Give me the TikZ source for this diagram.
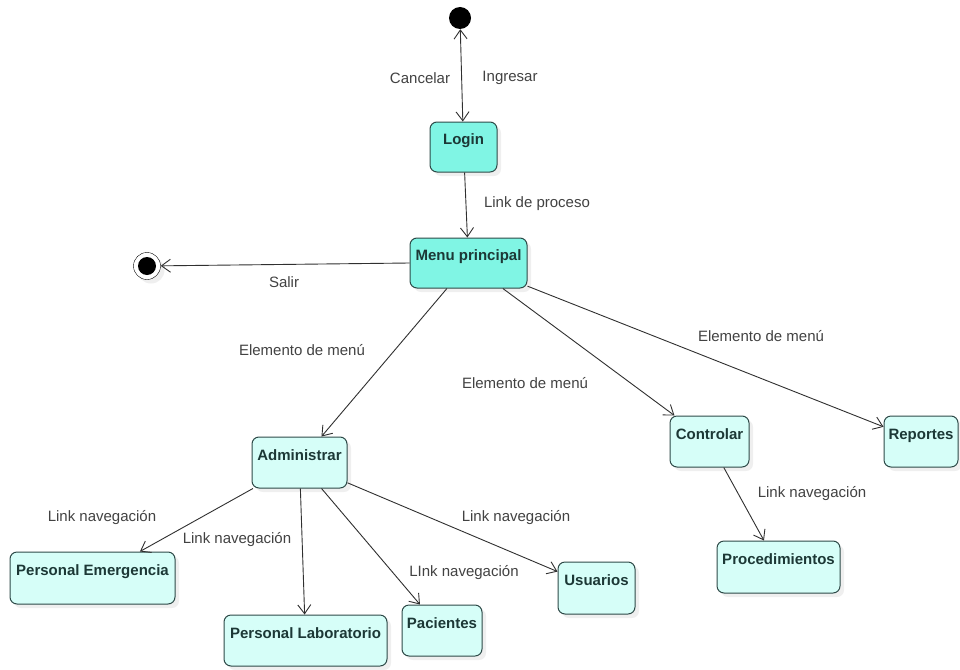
\documentclass[tikz,border=0pt]{standalone}
\usepackage{fontspec}
\setmainfont{Liberation Sans}
\usepackage{tikz}
\usetikzlibrary{arrows.meta}
\usetikzlibrary{shapes}
\usetikzlibrary{shadows}
\definecolor{menufill}{HTML}{80F5E4}
\definecolor{subfill}{HTML}{D6FEF8}
\definecolor{rimcol}{HTML}{2E4A48}
\definecolor{namecol}{HTML}{1C3836}
\definecolor{linecol}{HTML}{303030}
\definecolor{labcol}{HTML}{424242}
\tikzset{
    statebox/.style={draw=rimcol,line width=1pt,rounded corners=7pt,fill=subfill,
        minimum height=50pt,inner xsep=4pt,inner ysep=5pt,text height=15pt,text depth=20pt,
        font=\fontsize{15}{18}\selectfont\bfseries,text=namecol,
        drop shadow={opacity=0.12,shadow xshift=4pt,shadow yshift=-4pt}},
    mainbox/.style={statebox,fill=menufill},
    trans/.style={draw=linecol,line width=0.9pt,-{Straight Barb[length=9pt,width=13pt]}},
    translabel/.style={font=\fontsize{15}{18}\selectfont,text=labcol,inner sep=0pt}
}
\begin{document}
\begin{tikzpicture}[x=1pt,y=-1pt]
                    \useasboundingbox[fill=white] (0,0) rectangle (960,669);
                    % estados inicial y final
                    \draw (460,18) node[fill=black,circle,minimum size=22pt,inner sep=0pt,name=ini] {};
                    \draw (147,266) node[draw=black,fill=white,circle,minimum size=27pt,inner sep=0pt,name=fin,
                        drop shadow={opacity=0.12,shadow xshift=4pt,shadow yshift=-4pt}] {};
                    \fill (fin) circle (9pt);
                    % estados
                    \draw (463.5,147) node[mainbox,minimum width=67pt,name=login] {Login};
                    \draw (468.5,263) node[mainbox,minimum width=117pt,name=menu] {Menu principal};
                    \draw (299.5,462.5) node[statebox,minimum width=95pt,minimum height=51pt,name=admin] {Administrar};
                    \draw (709.5,441.5) node[statebox,minimum width=79pt,minimum height=51pt,name=control] {Controlar};
                    \draw (921,441.5) node[statebox,minimum width=74pt,minimum height=51pt,name=report] {Reportes};
                    \draw (778.5,567) node[statebox,minimum width=123pt,minimum height=52pt,name=proced] {Procedimientos};
                    \draw (92.5,578) node[statebox,minimum width=165pt,minimum height=52pt,name=emerg] {Personal Emergencia};
                    \draw (305.5,640.5) node[statebox,minimum width=163pt,minimum height=51pt,name=labor] {Personal Laboratorio};
                    \draw (442,630.5) node[statebox,minimum width=80pt,minimum height=51pt,name=pacien] {Pacientes};
                    \draw (596.5,588) node[statebox,minimum width=77pt,minimum height=52pt,name=usuar] {Usuarios};
                    % transiciones
                    \draw[trans,{Straight Barb[length=9pt,width=13pt]}-{Straight Barb[length=9pt,width=13pt]}] (ini) -- (login);
                    \draw[trans] (login) -- (menu);
                    \draw[trans] (menu.west) -- (fin);
                    \draw[trans] (menu) -- (admin);
                    \draw[trans] (menu) -- (control);
                    \draw[trans] (menu) -- (report);
                    \draw[trans] (admin) -- (emerg);
                    \draw[trans] (admin) -- (labor);
                    \draw[trans] (admin) -- (pacien);
                    \draw[trans] (admin) -- (usuar);
                    \draw[trans] (control) -- (proced);
                    % etiquetas
                    \draw (420,78) node[translabel,name=lcancel] {Cancelar};
                    \draw (510,78) node[translabel,name=lingres] {Ingresar};
                    \draw (537,204) node[translabel,name=lproc] {Link de proceso};
                    \draw (284,282) node[translabel,name=lsalir] {Salir};
                    \draw (302,350) node[translabel,name=lmenua] {Elemento de menú};
                    \draw (525,383) node[translabel,name=lmenub] {Elemento de menú};
                    \draw (761,336) node[translabel,name=lmenuc] {Elemento de menú};
                    \draw (102,518) node[translabel,name=lnava] {Link navegación};
                    \draw (237,540) node[translabel,name=lnavb] {Link navegación};
                    \draw (464,573) node[translabel,name=lnavc] {LInk navegación};
                    \draw (516,518) node[translabel,name=lnavd] {Link navegación};
                    \draw (812,494) node[translabel,name=lnave] {Link navegación};
                \end{tikzpicture}
\end{document}
